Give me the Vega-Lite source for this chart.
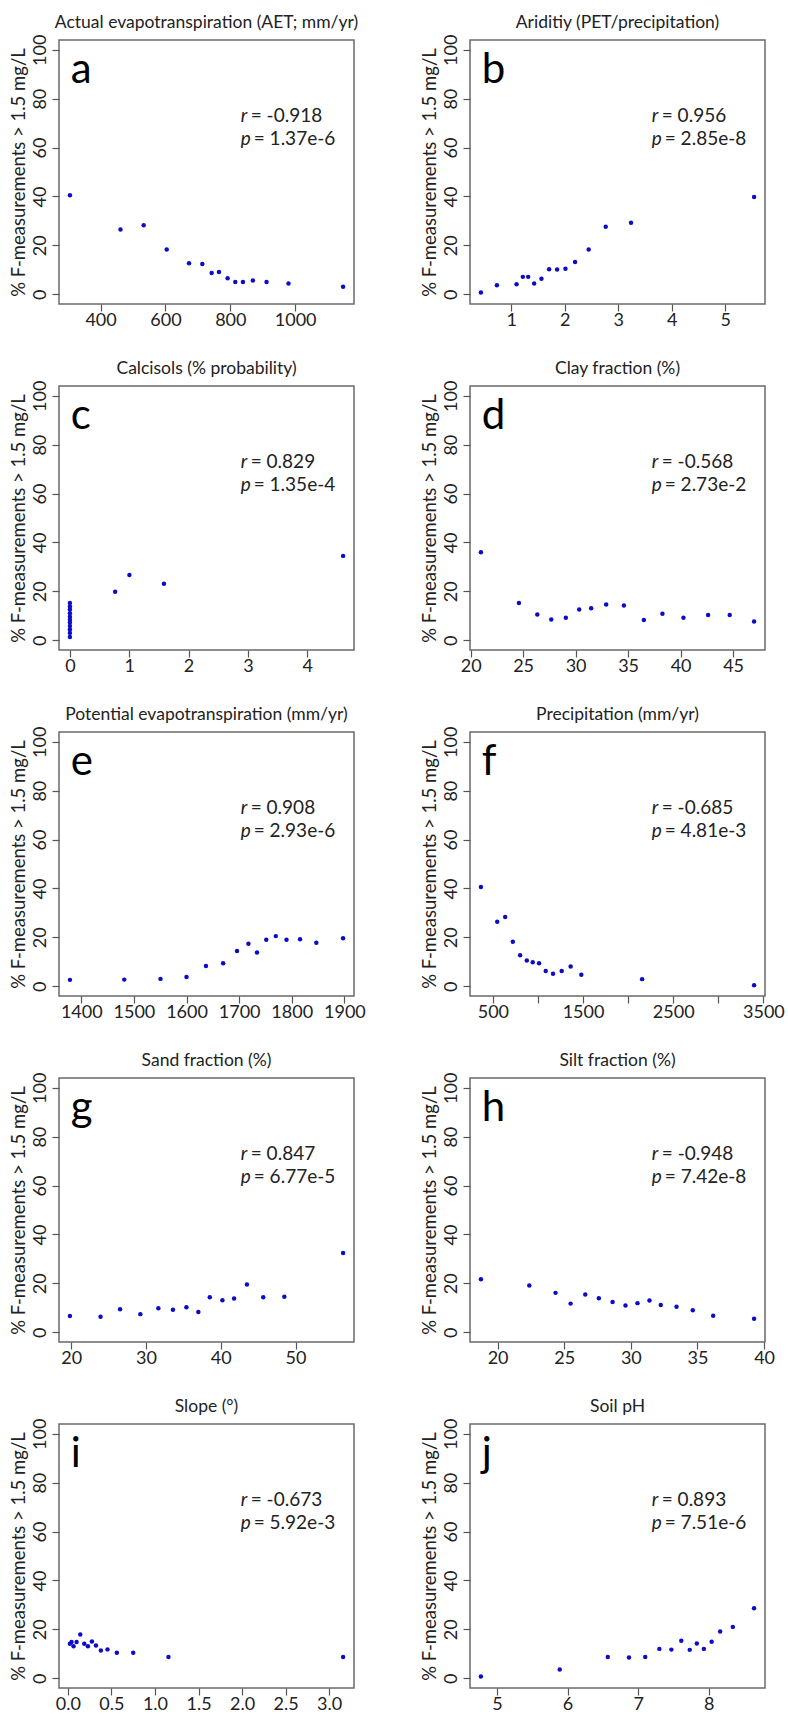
{
"$schema": "https://vega.github.io/schema/vega-lite/v6.json",
"background": "white",
"padding": {"left": 8, "top": 13, "right": 5, "bottom": 0},
"columns": 2,
"bounds": "flush",
"spacing": {"row": 82, "column": 116},
"concat": [
{"width": 295, "height": 264,
 "layer": [
  {"data": {"values": [{"x":305.6,"y":40.5},{"x":461.5,"y":26.5},{"x":533,"y":28.2},{"x":604,"y":18.3},{"x":672.8,"y":12.7},{"x":713.8,"y":12.4},{"x":742.6,"y":8.7},{"x":765,"y":9.1},{"x":791.8,"y":6.5},{"x":815.4,"y":5.0},{"x":839,"y":5.0},{"x":869.7,"y":5.6},{"x":911.8,"y":5.0},{"x":979.5,"y":4.4},{"x":1147.7,"y":3.1}]},
   "mark": {"type": "circle", "size": 20, "color": "#0c0cc8", "opacity": 1},
   "encoding": {"x": {"field": "x", "type": "quantitative", "scale": {"domain": [271.9, 1181.4], "nice": false, "zero": false}, "axis": {"values": [400, 600, 800, 1000], "format": "d", "title": null}},
    "y": {"field": "y", "type": "quantitative", "scale": {"domain": [-4, 104], "nice": false, "zero": false}, "axis": {"values": [0, 20, 40, 60, 80, 100], "title": "% F-measurements > 1.5 mg/L"}}}},
  {"data": {"values": [{"title": "Actual evapotranspiration (AET; mm/yr)", "letter": "a", "r": "= -0.918", "p": "= 1.37e-6"}]}, "layer": [
   {"mark": {"type": "text", "fontSize": 17.5, "align": "center", "baseline": "alphabetic", "color": "#222"}, "encoding": {"x": {"datum": 726.65}, "y": {"datum": 108.9}, "text": {"field": "title"}}},
   {"mark": {"type": "text", "fontSize": 42, "align": "left", "baseline": "alphabetic", "color": "#000"}, "encoding": {"x": {"datum": 308.3}, "y": {"datum": 86.4}, "text": {"field": "letter"}}},
   {"mark": {"type": "text", "fontSize": 19, "fontStyle": "italic", "align": "left", "baseline": "alphabetic", "color": "#222"}, "encoding": {"x": {"datum": 832.2}, "y": {"datum": 70.5}, "text": {"value": "r"}}},
   {"mark": {"type": "text", "fontSize": 19, "fontStyle": "italic", "align": "left", "baseline": "alphabetic", "color": "#222"}, "encoding": {"x": {"datum": 832.2}, "y": {"datum": 61}, "text": {"value": "p"}}},
   {"mark": {"type": "text", "fontSize": 19, "align": "left", "baseline": "alphabetic", "dx": 10, "color": "#222"}, "encoding": {"x": {"datum": 832.2}, "y": {"datum": 70.5}, "text": {"field": "r"}}},
   {"mark": {"type": "text", "fontSize": 19, "align": "left", "baseline": "alphabetic", "dx": 13, "color": "#222"}, "encoding": {"x": {"datum": 832.2}, "y": {"datum": 61}, "text": {"field": "p"}}}
  ]}
 ]},
{"width": 295, "height": 264,
 "layer": [
  {"data": {"values": [{"x":0.434,"y":0.7},{"x":0.733,"y":3.7},{"x":1.10,"y":4.1},{"x":1.218,"y":7.1},{"x":1.317,"y":7.1},{"x":1.429,"y":4.4},{"x":1.566,"y":6.3},{"x":1.709,"y":10.2},{"x":1.858,"y":10.1},{"x":2.014,"y":10.4},{"x":2.194,"y":13.2},{"x":2.449,"y":18.3},{"x":2.767,"y":27.6},{"x":3.24,"y":29.2},{"x":5.54,"y":39.8}]},
   "mark": {"type": "circle", "size": 20, "color": "#0c0cc8", "opacity": 1},
   "encoding": {"x": {"field": "x", "type": "quantitative", "scale": {"domain": [0.23, 5.744], "nice": false, "zero": false}, "axis": {"values": [1, 2, 3, 4, 5], "format": "d", "title": null}},
    "y": {"field": "y", "type": "quantitative", "scale": {"domain": [-4, 104], "nice": false, "zero": false}, "axis": {"values": [0, 20, 40, 60, 80, 100], "title": "% F-measurements > 1.5 mg/L"}}}},
  {"data": {"values": [{"title": "Ariditiy (PET/precipitation)", "letter": "b", "r": "= 0.956", "p": "= 2.85e-8"}]}, "layer": [
   {"mark": {"type": "text", "fontSize": 17.5, "align": "center", "baseline": "alphabetic", "color": "#222"}, "encoding": {"x": {"datum": 2.987}, "y": {"datum": 108.9}, "text": {"field": "title"}}},
   {"mark": {"type": "text", "fontSize": 42, "align": "left", "baseline": "alphabetic", "color": "#000"}, "encoding": {"x": {"datum": 0.45}, "y": {"datum": 86.4}, "text": {"field": "letter"}}},
   {"mark": {"type": "text", "fontSize": 19, "fontStyle": "italic", "align": "left", "baseline": "alphabetic", "color": "#222"}, "encoding": {"x": {"datum": 3.627}, "y": {"datum": 70.5}, "text": {"value": "r"}}},
   {"mark": {"type": "text", "fontSize": 19, "fontStyle": "italic", "align": "left", "baseline": "alphabetic", "color": "#222"}, "encoding": {"x": {"datum": 3.627}, "y": {"datum": 61}, "text": {"value": "p"}}},
   {"mark": {"type": "text", "fontSize": 19, "align": "left", "baseline": "alphabetic", "dx": 10, "color": "#222"}, "encoding": {"x": {"datum": 3.627}, "y": {"datum": 70.5}, "text": {"field": "r"}}},
   {"mark": {"type": "text", "fontSize": 19, "align": "left", "baseline": "alphabetic", "dx": 13, "color": "#222"}, "encoding": {"x": {"datum": 3.627}, "y": {"datum": 61}, "text": {"field": "p"}}}
  ]}
 ]},
{"width": 295, "height": 264,
 "layer": [
  {"data": {"values": [{"x":0,"y":15.2},{"x":0,"y":13.8},{"x":0,"y":12.6},{"x":0,"y":11.0},{"x":0,"y":9.6},{"x":0,"y":8.4},{"x":0,"y":7.2},{"x":0,"y":5.8},{"x":0,"y":4.4},{"x":0,"y":3.0},{"x":0,"y":1.3},{"x":0.762,"y":19.8},{"x":1.003,"y":26.7},{"x":1.585,"y":23.1},{"x":4.605,"y":34.5}]},
   "mark": {"type": "circle", "size": 20, "color": "#0c0cc8", "opacity": 1},
   "encoding": {"x": {"field": "x", "type": "quantitative", "scale": {"domain": [-0.184, 4.789], "nice": false, "zero": false}, "axis": {"values": [0, 1, 2, 3, 4], "format": "d", "title": null}},
    "y": {"field": "y", "type": "quantitative", "scale": {"domain": [-4, 104], "nice": false, "zero": false}, "axis": {"values": [0, 20, 40, 60, 80, 100], "title": "% F-measurements > 1.5 mg/L"}}}},
  {"data": {"values": [{"title": "Calcisols (% probability)", "letter": "c", "r": "= 0.829", "p": "= 1.35e-4"}]}, "layer": [
   {"mark": {"type": "text", "fontSize": 17.5, "align": "center", "baseline": "alphabetic", "color": "#222"}, "encoding": {"x": {"datum": 2.3025}, "y": {"datum": 108.9}, "text": {"field": "title"}}},
   {"mark": {"type": "text", "fontSize": 42, "align": "left", "baseline": "alphabetic", "color": "#000"}, "encoding": {"x": {"datum": 0.015}, "y": {"datum": 86.4}, "text": {"field": "letter"}}},
   {"mark": {"type": "text", "fontSize": 19, "fontStyle": "italic", "align": "left", "baseline": "alphabetic", "color": "#222"}, "encoding": {"x": {"datum": 2.879}, "y": {"datum": 70.5}, "text": {"value": "r"}}},
   {"mark": {"type": "text", "fontSize": 19, "fontStyle": "italic", "align": "left", "baseline": "alphabetic", "color": "#222"}, "encoding": {"x": {"datum": 2.879}, "y": {"datum": 61}, "text": {"value": "p"}}},
   {"mark": {"type": "text", "fontSize": 19, "align": "left", "baseline": "alphabetic", "dx": 10, "color": "#222"}, "encoding": {"x": {"datum": 2.879}, "y": {"datum": 70.5}, "text": {"field": "r"}}},
   {"mark": {"type": "text", "fontSize": 19, "align": "left", "baseline": "alphabetic", "dx": 13, "color": "#222"}, "encoding": {"x": {"datum": 2.879}, "y": {"datum": 61}, "text": {"field": "p"}}}
  ]}
 ]},
{"width": 295, "height": 264,
 "layer": [
  {"data": {"values": [{"x":20.98,"y":36.0},{"x":24.6,"y":15.2},{"x":26.35,"y":10.5},{"x":27.68,"y":8.5},{"x":29.07,"y":9.2},{"x":30.34,"y":12.6},{"x":31.48,"y":13.1},{"x":32.91,"y":14.6},{"x":34.6,"y":14.2},{"x":36.5,"y":8.3},{"x":38.27,"y":10.8},{"x":40.27,"y":9.2},{"x":42.62,"y":10.3},{"x":44.68,"y":10.3},{"x":47.0,"y":7.7}]},
   "mark": {"type": "circle", "size": 20, "color": "#0c0cc8", "opacity": 1},
   "encoding": {"x": {"field": "x", "type": "quantitative", "scale": {"domain": [19.94, 48.04], "nice": false, "zero": false}, "axis": {"values": [20, 25, 30, 35, 40, 45], "format": "d", "title": null}},
    "y": {"field": "y", "type": "quantitative", "scale": {"domain": [-4, 104], "nice": false, "zero": false}, "axis": {"values": [0, 20, 40, 60, 80, 100], "title": "% F-measurements > 1.5 mg/L"}}}},
  {"data": {"values": [{"title": "Clay fraction (%)", "letter": "d", "r": "= -0.568", "p": "= 2.73e-2"}]}, "layer": [
   {"mark": {"type": "text", "fontSize": 17.5, "align": "center", "baseline": "alphabetic", "color": "#222"}, "encoding": {"x": {"datum": 33.99}, "y": {"datum": 108.9}, "text": {"field": "title"}}},
   {"mark": {"type": "text", "fontSize": 42, "align": "left", "baseline": "alphabetic", "color": "#000"}, "encoding": {"x": {"datum": 21.06}, "y": {"datum": 86.4}, "text": {"field": "letter"}}},
   {"mark": {"type": "text", "fontSize": 19, "fontStyle": "italic", "align": "left", "baseline": "alphabetic", "color": "#222"}, "encoding": {"x": {"datum": 37.25}, "y": {"datum": 70.5}, "text": {"value": "r"}}},
   {"mark": {"type": "text", "fontSize": 19, "fontStyle": "italic", "align": "left", "baseline": "alphabetic", "color": "#222"}, "encoding": {"x": {"datum": 37.25}, "y": {"datum": 61}, "text": {"value": "p"}}},
   {"mark": {"type": "text", "fontSize": 19, "align": "left", "baseline": "alphabetic", "dx": 10, "color": "#222"}, "encoding": {"x": {"datum": 37.25}, "y": {"datum": 70.5}, "text": {"field": "r"}}},
   {"mark": {"type": "text", "fontSize": 19, "align": "left", "baseline": "alphabetic", "dx": 13, "color": "#222"}, "encoding": {"x": {"datum": 37.25}, "y": {"datum": 61}, "text": {"field": "p"}}}
  ]}
 ]},
{"width": 295, "height": 264,
 "layer": [
  {"data": {"values": [{"x":1378.5,"y":2.6},{"x":1481.7,"y":2.7},{"x":1550.6,"y":3.0},{"x":1600,"y":3.8},{"x":1637,"y":8.3},{"x":1669.6,"y":9.4},{"x":1696,"y":14.4},{"x":1717.7,"y":17.4},{"x":1734,"y":13.8},{"x":1751.6,"y":19.0},{"x":1769.7,"y":20.5},{"x":1790,"y":19.0},{"x":1815.8,"y":19.2},{"x":1846.7,"y":17.8},{"x":1897.5,"y":19.6}]},
   "mark": {"type": "circle", "size": 20, "color": "#0c0cc8", "opacity": 1},
   "encoding": {"x": {"field": "x", "type": "quantitative", "scale": {"domain": [1357.7, 1918.3], "nice": false, "zero": false}, "axis": {"values": [1400, 1500, 1600, 1700, 1800, 1900], "format": "d", "title": null}},
    "y": {"field": "y", "type": "quantitative", "scale": {"domain": [-4, 104], "nice": false, "zero": false}, "axis": {"values": [0, 20, 40, 60, 80, 100], "title": "% F-measurements > 1.5 mg/L"}}}},
  {"data": {"values": [{"title": "Potential evapotranspiration (mm/yr)", "letter": "e", "r": "= 0.908", "p": "= 2.93e-6"}]}, "layer": [
   {"mark": {"type": "text", "fontSize": 17.5, "align": "center", "baseline": "alphabetic", "color": "#222"}, "encoding": {"x": {"datum": 1638}, "y": {"datum": 108.9}, "text": {"field": "title"}}},
   {"mark": {"type": "text", "fontSize": 42, "align": "left", "baseline": "alphabetic", "color": "#000"}, "encoding": {"x": {"datum": 1380.1}, "y": {"datum": 86.4}, "text": {"field": "letter"}}},
   {"mark": {"type": "text", "fontSize": 19, "fontStyle": "italic", "align": "left", "baseline": "alphabetic", "color": "#222"}, "encoding": {"x": {"datum": 1703.0}, "y": {"datum": 70.5}, "text": {"value": "r"}}},
   {"mark": {"type": "text", "fontSize": 19, "fontStyle": "italic", "align": "left", "baseline": "alphabetic", "color": "#222"}, "encoding": {"x": {"datum": 1703.0}, "y": {"datum": 61}, "text": {"value": "p"}}},
   {"mark": {"type": "text", "fontSize": 19, "align": "left", "baseline": "alphabetic", "dx": 10, "color": "#222"}, "encoding": {"x": {"datum": 1703.0}, "y": {"datum": 70.5}, "text": {"field": "r"}}},
   {"mark": {"type": "text", "fontSize": 19, "align": "left", "baseline": "alphabetic", "dx": 13, "color": "#222"}, "encoding": {"x": {"datum": 1703.0}, "y": {"datum": 61}, "text": {"field": "p"}}}
  ]}
 ]},
{"width": 295, "height": 264,
 "layer": [
  {"data": {"values": [{"x":367,"y":40.6},{"x":548,"y":26.4},{"x":636,"y":28.3},{"x":721,"y":18.2},{"x":802,"y":12.7},{"x":876,"y":10.5},{"x":942,"y":9.8},{"x":1012,"y":9.4},{"x":1086,"y":6.2},{"x":1167,"y":5.1},{"x":1263,"y":6.2},{"x":1362.5,"y":8.1},{"x":1480.5,"y":4.7},{"x":2155,"y":2.9},{"x":3397,"y":0.4}]},
   "mark": {"type": "circle", "size": 20, "color": "#0c0cc8", "opacity": 1},
   "encoding": {"x": {"field": "x", "type": "quantitative", "scale": {"domain": [246, 3518], "nice": false, "zero": false}, "axis": {"values": [500, 1000, 1500, 2000, 2500, 3000, 3500], "format": "d", "labelExpr": "datum.value % 1000 == 500 ? datum.label : ''", "title": null}},
    "y": {"field": "y", "type": "quantitative", "scale": {"domain": [-4, 104], "nice": false, "zero": false}, "axis": {"values": [0, 20, 40, 60, 80, 100], "title": "% F-measurements > 1.5 mg/L"}}}},
  {"data": {"values": [{"title": "Precipitation (mm/yr)", "letter": "f", "r": "= -0.685", "p": "= 4.81e-3"}]}, "layer": [
   {"mark": {"type": "text", "fontSize": 17.5, "align": "center", "baseline": "alphabetic", "color": "#222"}, "encoding": {"x": {"datum": 1882}, "y": {"datum": 108.9}, "text": {"field": "title"}}},
   {"mark": {"type": "text", "fontSize": 42, "align": "left", "baseline": "alphabetic", "color": "#000"}, "encoding": {"x": {"datum": 376.9}, "y": {"datum": 86.4}, "text": {"field": "letter"}}},
   {"mark": {"type": "text", "fontSize": 19, "fontStyle": "italic", "align": "left", "baseline": "alphabetic", "color": "#222"}, "encoding": {"x": {"datum": 2261.6}, "y": {"datum": 70.5}, "text": {"value": "r"}}},
   {"mark": {"type": "text", "fontSize": 19, "fontStyle": "italic", "align": "left", "baseline": "alphabetic", "color": "#222"}, "encoding": {"x": {"datum": 2261.6}, "y": {"datum": 61}, "text": {"value": "p"}}},
   {"mark": {"type": "text", "fontSize": 19, "align": "left", "baseline": "alphabetic", "dx": 10, "color": "#222"}, "encoding": {"x": {"datum": 2261.6}, "y": {"datum": 70.5}, "text": {"field": "r"}}},
   {"mark": {"type": "text", "fontSize": 19, "align": "left", "baseline": "alphabetic", "dx": 13, "color": "#222"}, "encoding": {"x": {"datum": 2261.6}, "y": {"datum": 61}, "text": {"field": "p"}}}
  ]}
 ]},
{"width": 295, "height": 264,
 "layer": [
  {"data": {"values": [{"x":19.82,"y":6.6},{"x":23.92,"y":6.3},{"x":26.53,"y":9.4},{"x":29.24,"y":7.4},{"x":31.65,"y":9.8},{"x":33.6,"y":9.2},{"x":35.4,"y":10.2},{"x":37.0,"y":8.3},{"x":38.53,"y":14.3},{"x":40.22,"y":13.1},{"x":41.78,"y":13.8},{"x":43.5,"y":19.5},{"x":45.68,"y":14.3},{"x":48.5,"y":14.5},{"x":56.36,"y":32.4}]},
   "mark": {"type": "circle", "size": 20, "color": "#0c0cc8", "opacity": 1},
   "encoding": {"x": {"field": "x", "type": "quantitative", "scale": {"domain": [18.36, 57.82], "nice": false, "zero": false}, "axis": {"values": [20, 30, 40, 50], "format": "d", "title": null}},
    "y": {"field": "y", "type": "quantitative", "scale": {"domain": [-4, 104], "nice": false, "zero": false}, "axis": {"values": [0, 20, 40, 60, 80, 100], "title": "% F-measurements > 1.5 mg/L"}}}},
  {"data": {"values": [{"title": "Sand fraction (%)", "letter": "g", "r": "= 0.847", "p": "= 6.77e-5"}]}, "layer": [
   {"mark": {"type": "text", "fontSize": 17.5, "align": "center", "baseline": "alphabetic", "color": "#222"}, "encoding": {"x": {"datum": 38.09}, "y": {"datum": 108.9}, "text": {"field": "title"}}},
   {"mark": {"type": "text", "fontSize": 42, "align": "left", "baseline": "alphabetic", "color": "#000"}, "encoding": {"x": {"datum": 19.94}, "y": {"datum": 86.4}, "text": {"field": "letter"}}},
   {"mark": {"type": "text", "fontSize": 19, "fontStyle": "italic", "align": "left", "baseline": "alphabetic", "color": "#222"}, "encoding": {"x": {"datum": 42.67}, "y": {"datum": 70.5}, "text": {"value": "r"}}},
   {"mark": {"type": "text", "fontSize": 19, "fontStyle": "italic", "align": "left", "baseline": "alphabetic", "color": "#222"}, "encoding": {"x": {"datum": 42.67}, "y": {"datum": 61}, "text": {"value": "p"}}},
   {"mark": {"type": "text", "fontSize": 19, "align": "left", "baseline": "alphabetic", "dx": 10, "color": "#222"}, "encoding": {"x": {"datum": 42.67}, "y": {"datum": 70.5}, "text": {"field": "r"}}},
   {"mark": {"type": "text", "fontSize": 19, "align": "left", "baseline": "alphabetic", "dx": 13, "color": "#222"}, "encoding": {"x": {"datum": 42.67}, "y": {"datum": 61}, "text": {"field": "p"}}}
  ]}
 ]},
{"width": 295, "height": 264,
 "layer": [
  {"data": {"values": [{"x":18.75,"y":21.7},{"x":22.38,"y":19.1},{"x":24.35,"y":16.1},{"x":25.48,"y":11.7},{"x":26.58,"y":15.4},{"x":27.6,"y":13.9},{"x":28.63,"y":12.4},{"x":29.6,"y":10.9},{"x":30.5,"y":11.9},{"x":31.4,"y":13.0},{"x":32.25,"y":11.1},{"x":33.43,"y":10.4},{"x":34.65,"y":9.0},{"x":36.18,"y":6.7},{"x":39.25,"y":5.5}]},
   "mark": {"type": "circle", "size": 20, "color": "#0c0cc8", "opacity": 1},
   "encoding": {"x": {"field": "x", "type": "quantitative", "scale": {"domain": [17.93, 40.07], "nice": false, "zero": false}, "axis": {"values": [20, 25, 30, 35, 40], "format": "d", "title": null}},
    "y": {"field": "y", "type": "quantitative", "scale": {"domain": [-4, 104], "nice": false, "zero": false}, "axis": {"values": [0, 20, 40, 60, 80, 100], "title": "% F-measurements > 1.5 mg/L"}}}},
  {"data": {"values": [{"title": "Silt fraction (%)", "letter": "h", "r": "= -0.948", "p": "= 7.42e-8"}]}, "layer": [
   {"mark": {"type": "text", "fontSize": 17.5, "align": "center", "baseline": "alphabetic", "color": "#222"}, "encoding": {"x": {"datum": 29.0}, "y": {"datum": 108.9}, "text": {"field": "title"}}},
   {"mark": {"type": "text", "fontSize": 42, "align": "left", "baseline": "alphabetic", "color": "#000"}, "encoding": {"x": {"datum": 18.82}, "y": {"datum": 86.4}, "text": {"field": "letter"}}},
   {"mark": {"type": "text", "fontSize": 19, "fontStyle": "italic", "align": "left", "baseline": "alphabetic", "color": "#222"}, "encoding": {"x": {"datum": 31.57}, "y": {"datum": 70.5}, "text": {"value": "r"}}},
   {"mark": {"type": "text", "fontSize": 19, "fontStyle": "italic", "align": "left", "baseline": "alphabetic", "color": "#222"}, "encoding": {"x": {"datum": 31.57}, "y": {"datum": 61}, "text": {"value": "p"}}},
   {"mark": {"type": "text", "fontSize": 19, "align": "left", "baseline": "alphabetic", "dx": 10, "color": "#222"}, "encoding": {"x": {"datum": 31.57}, "y": {"datum": 70.5}, "text": {"field": "r"}}},
   {"mark": {"type": "text", "fontSize": 19, "align": "left", "baseline": "alphabetic", "dx": 13, "color": "#222"}, "encoding": {"x": {"datum": 31.57}, "y": {"datum": 61}, "text": {"field": "p"}}}
  ]}
 ]},
{"width": 295, "height": 264,
 "layer": [
  {"data": {"values": [{"x":0.023,"y":14.1},{"x":0.042,"y":14.8},{"x":0.065,"y":13.1},{"x":0.1,"y":14.8},{"x":0.142,"y":17.9},{"x":0.188,"y":14.1},{"x":0.23,"y":13.1},{"x":0.276,"y":15.0},{"x":0.322,"y":13.4},{"x":0.379,"y":11.3},{"x":0.455,"y":11.8},{"x":0.562,"y":10.4},{"x":0.75,"y":10.4},{"x":1.155,"y":8.7},{"x":3.16,"y":8.7}]},
   "mark": {"type": "circle", "size": 20, "color": "#0c0cc8", "opacity": 1},
   "encoding": {"x": {"field": "x", "type": "quantitative", "scale": {"domain": [-0.102, 3.285], "nice": false, "zero": false}, "axis": {"values": [0, 0.5, 1, 1.5, 2, 2.5, 3], "format": ".1f", "title": null}},
    "y": {"field": "y", "type": "quantitative", "scale": {"domain": [-4, 104], "nice": false, "zero": false}, "axis": {"values": [0, 20, 40, 60, 80, 100], "title": "% F-measurements > 1.5 mg/L"}}}},
  {"data": {"values": [{"title": "Slope (°)", "letter": "i", "r": "= -0.673", "p": "= 5.92e-3"}]}, "layer": [
   {"mark": {"type": "text", "fontSize": 17.5, "align": "center", "baseline": "alphabetic", "color": "#222"}, "encoding": {"x": {"datum": 1.5915}, "y": {"datum": 108.9}, "text": {"field": "title"}}},
   {"mark": {"type": "text", "fontSize": 42, "align": "left", "baseline": "alphabetic", "color": "#000"}, "encoding": {"x": {"datum": 0.033}, "y": {"datum": 86.4}, "text": {"field": "letter"}}},
   {"mark": {"type": "text", "fontSize": 19, "fontStyle": "italic", "align": "left", "baseline": "alphabetic", "color": "#222"}, "encoding": {"x": {"datum": 1.984}, "y": {"datum": 70.5}, "text": {"value": "r"}}},
   {"mark": {"type": "text", "fontSize": 19, "fontStyle": "italic", "align": "left", "baseline": "alphabetic", "color": "#222"}, "encoding": {"x": {"datum": 1.984}, "y": {"datum": 61}, "text": {"value": "p"}}},
   {"mark": {"type": "text", "fontSize": 19, "align": "left", "baseline": "alphabetic", "dx": 10, "color": "#222"}, "encoding": {"x": {"datum": 1.984}, "y": {"datum": 70.5}, "text": {"field": "r"}}},
   {"mark": {"type": "text", "fontSize": 19, "align": "left", "baseline": "alphabetic", "dx": 13, "color": "#222"}, "encoding": {"x": {"datum": 1.984}, "y": {"datum": 61}, "text": {"field": "p"}}}
  ]}
 ]},
{"width": 295, "height": 264,
 "layer": [
  {"data": {"values": [{"x":4.774,"y":0.7},{"x":5.89,"y":3.6},{"x":6.57,"y":8.7},{"x":6.87,"y":8.5},{"x":7.10,"y":8.7},{"x":7.30,"y":12.0},{"x":7.47,"y":11.7},{"x":7.61,"y":15.3},{"x":7.73,"y":11.6},{"x":7.83,"y":14.2},{"x":7.93,"y":12.0},{"x":8.04,"y":14.9},{"x":8.16,"y":19.1},{"x":8.34,"y":21.0},{"x":8.64,"y":28.6}]},
   "mark": {"type": "circle", "size": 20, "color": "#0c0cc8", "opacity": 1},
   "encoding": {"x": {"field": "x", "type": "quantitative", "scale": {"domain": [4.62, 8.795], "nice": false, "zero": false}, "axis": {"values": [5, 6, 7, 8], "format": "d", "title": null}},
    "y": {"field": "y", "type": "quantitative", "scale": {"domain": [-4, 104], "nice": false, "zero": false}, "axis": {"values": [0, 20, 40, 60, 80, 100], "title": "% F-measurements > 1.5 mg/L"}}}},
  {"data": {"values": [{"title": "Soil pH", "letter": "j", "r": "= 0.893", "p": "= 7.51e-6"}]}, "layer": [
   {"mark": {"type": "text", "fontSize": 17.5, "align": "center", "baseline": "alphabetic", "color": "#222"}, "encoding": {"x": {"datum": 6.7075}, "y": {"datum": 108.9}, "text": {"field": "title"}}},
   {"mark": {"type": "text", "fontSize": 42, "align": "left", "baseline": "alphabetic", "color": "#000"}, "encoding": {"x": {"datum": 4.787}, "y": {"datum": 86.4}, "text": {"field": "letter"}}},
   {"mark": {"type": "text", "fontSize": 19, "fontStyle": "italic", "align": "left", "baseline": "alphabetic", "color": "#222"}, "encoding": {"x": {"datum": 7.192}, "y": {"datum": 70.5}, "text": {"value": "r"}}},
   {"mark": {"type": "text", "fontSize": 19, "fontStyle": "italic", "align": "left", "baseline": "alphabetic", "color": "#222"}, "encoding": {"x": {"datum": 7.192}, "y": {"datum": 61}, "text": {"value": "p"}}},
   {"mark": {"type": "text", "fontSize": 19, "align": "left", "baseline": "alphabetic", "dx": 10, "color": "#222"}, "encoding": {"x": {"datum": 7.192}, "y": {"datum": 70.5}, "text": {"field": "r"}}},
   {"mark": {"type": "text", "fontSize": 19, "align": "left", "baseline": "alphabetic", "dx": 13, "color": "#222"}, "encoding": {"x": {"datum": 7.192}, "y": {"datum": 61}, "text": {"field": "p"}}}
  ]}
 ]}
],
"config": {
 "font": "Lato",
 "view": {"stroke": "#6a6a6a", "strokeWidth": 1.5},
 "axis": {"domain": false, "grid": false, "tickColor": "#555", "tickSize": 7, "tickWidth": 1.2, "labelFontSize": 18, "labelColor": "#222", "labelPadding": 1, "titleFontSize": 18.5, "titleFontWeight": "normal", "titleColor": "#222", "labelOverlap": false, "labelFlush": false},
 "axisX": {"labelPadding": 0},
 "axisY": {"labelAngle": -90, "labelAlign": "center", "labelBaseline": "bottom", "labelPadding": 3, "titlePadding": 3}
}
}
